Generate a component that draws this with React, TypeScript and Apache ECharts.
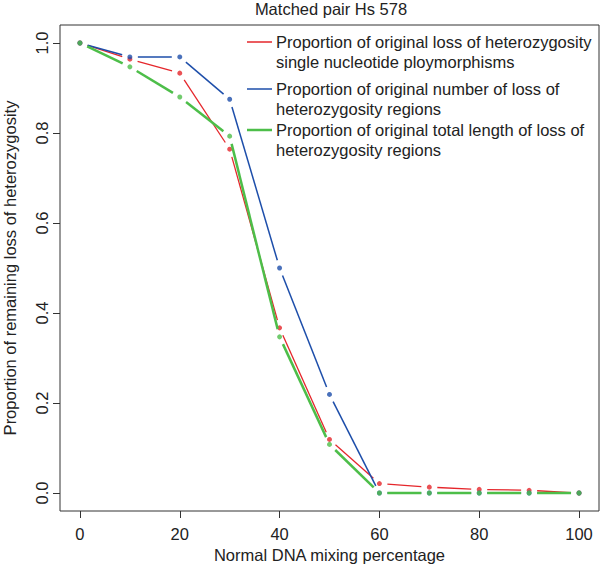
import React, { useEffect, useRef } from "react";
import * as echarts from "echarts";

const mixing = [0, 10, 20, 30, 40, 50, 60, 70, 80, 90, 100];
const snpLoh = [1.0, 0.964, 0.933, 0.764, 0.367, 0.119, 0.021, 0.013, 0.008, 0.006, 0.0];
const regionCount = [1.0, 0.969, 0.969, 0.875, 0.5, 0.219, 0.0, 0.0, 0.0, 0.0, 0.0];
const regionLength = [1.0, 0.947, 0.88, 0.793, 0.347, 0.108, 0.0, 0.0, 0.0, 0.0, 0.0];

const xTicks = [0, 20, 40, 60, 80, 100];
const yTicks = [0, 0.2, 0.4, 0.6, 0.8, 1.0];

const seriesNames = [
  ["Proportion of original loss of heterozygosity", "single nucleotide ploymorphisms"],
  ["Proportion of original number of loss of", "heterozygosity regions"],
  ["Proportion of original total length of loss of", "heterozygosity regions"],
];

const FONT = "'Liberation Sans', Arial, Helvetica, sans-serif";
const COLORS = ["#e5262b", "#1d4eaa", "#4dbe49"];
const WIDTHS = [1.3, 1.5, 2.5];
const GAP = 8;

function segments(xs: number[], ys: number[]) {
  const out: number[][] = [];
  for (let i = 0; i < xs.length - 1; i++) out.push([xs[i], ys[i], xs[i + 1], ys[i + 1]]);
  return out;
}

export default function App() {
  const ref = useRef<HTMLDivElement>(null);
  useEffect(() => {
    if (!ref.current) return;
    const chart = echarts.init(ref.current, null, { renderer: "svg" });
    const allY = [snpLoh, regionCount, regionLength];
    const series: any[] = [];
    allY.forEach((ys, k) => {
      const color = COLORS[k];
      const lw = WIDTHS[k];
      series.push({
        type: "custom",
        name: seriesNames[k].join(" "),
        data: segments(mixing, ys),
        encode: { x: [0, 2], y: [1, 3] },
        z: 2 + k * 2,
        renderItem: (params: any, api: any) => {
          const p1 = api.coord([api.value(0), api.value(1)]);
          const p2 = api.coord([api.value(2), api.value(3)]);
          const dx = p2[0] - p1[0];
          const dy = p2[1] - p1[1];
          const len = Math.hypot(dx, dy);
          if (len <= 2 * GAP) return null;
          const ux = dx / len;
          const uy = dy / len;
          return {
            type: "line",
            shape: {
              x1: p1[0] + ux * GAP,
              y1: p1[1] + uy * GAP,
              x2: p2[0] - ux * GAP,
              y2: p2[1] - uy * GAP,
            },
            style: { stroke: color, lineWidth: lw, fill: null },
          };
        },
      });
      series.push({
        type: "scatter",
        name: seriesNames[k].join(" ") + " points",
        data: mixing.map((x, i) => [x, ys[i]]),
        symbol: "circle",
        symbolSize: 5,
        itemStyle: { color, borderWidth: 0 },
        z: 3 + k * 2,
      });
    });

    const graphics: any[] = [];
    const legendY = [
      [42, 61.5],
      [89, 108.5],
      [130, 149.5],
    ];
    seriesNames.forEach((lines, k) => {
      graphics.push({
        type: "line",
        shape: { x1: 247, y1: legendY[k][0], x2: 272, y2: legendY[k][0] },
        style: { stroke: COLORS[k], lineWidth: k === 2 ? 2.5 : 1.5 },
      });
      lines.forEach((t, j) => {
        graphics.push({
          type: "text",
          x: 276,
          y: legendY[k][j],
          style: {
            text: t,
            font: `16.5px ${FONT}`,
            fill: "#222",
            textAlign: "left",
            textVerticalAlign: "middle",
          },
        });
      });
    });

    chart.setOption({
      animation: false,
      backgroundColor: "#ffffff",
      title: {
        text: "Matched pair Hs 578",
        left: 331,
        top: 0,
        textAlign: "center",
        padding: 0,
        textStyle: {
          fontFamily: FONT,
          fontSize: 16.5,
          fontWeight: "normal",
          color: "#222",
          lineHeight: 18,
        },
      },
      grid: {
        left: 60,
        right: 1,
        top: 25,
        bottom: 54,
        show: true,
        borderColor: "#333",
        borderWidth: 1,
        backgroundColor: "transparent",
        containLabel: false,
        outerBoundsMode: "none",
      },
      xAxis: {
        type: "value",
        min: -4,
        max: 104,
        name: "Normal DNA mixing percentage",
        nameLocation: "middle",
        nameGap: 35,
        nameTextStyle: { fontFamily: FONT, fontSize: 16.5, color: "#222" },
        axisLine: { show: false, onZero: false },
        splitLine: { show: false },
        axisTick: { show: true, length: 7, lineStyle: { color: "#333" }, customValues: xTicks },
        axisLabel: {
          customValues: xTicks,
          margin: 14,
          fontFamily: FONT,
          fontSize: 16.5,
          color: "#222",
        },
      },
      yAxis: {
        type: "value",
        min: -0.04,
        max: 1.04,
        name: "Proportion of remaining loss of heterozygosity",
        nameLocation: "middle",
        nameGap: 42,
        nameTextStyle: { fontFamily: FONT, fontSize: 16.5, color: "#222" },
        axisLine: { show: false, onZero: false },
        splitLine: { show: false },
        axisTick: { show: true, length: 7, lineStyle: { color: "#333" }, customValues: yTicks },
        axisLabel: {
          customValues: yTicks,
          rotate: 90,
          margin: 10,
          fontFamily: FONT,
          fontSize: 16.5,
          color: "#222",
          formatter: (v: number) => v.toFixed(1),
        },
      },
      graphic: graphics,
      series,
    });
    return () => chart.dispose();
  }, []);
  return <div ref={ref} style={{ width: 600, height: 565, position: "absolute", left: 0, top: 0 }} />;
}
